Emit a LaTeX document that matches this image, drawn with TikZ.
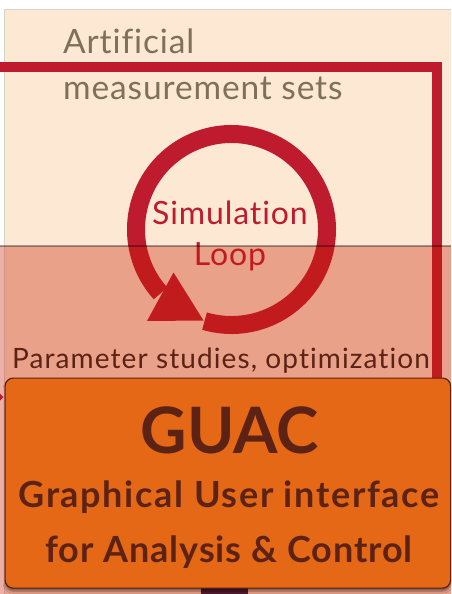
\documentclass[tikz,border=0pt]{standalone}
\usepackage{fontspec}
\setmainfont{Lato}[Ligatures=NoCommon]
\usetikzlibrary{shadows.blur}

\definecolor{peach}{RGB}{253,232,211}
\definecolor{tint}{RGB}{199,29,0}
\definecolor{loopred}{RGB}{190,27,46}
\definecolor{noteclr}{RGB}{127,112,92}
\definecolor{darkbrown}{RGB}{92,34,20}
\definecolor{guacorange}{RGB}{228,104,22}
\definecolor{edgebrown}{RGB}{90,32,16}
\definecolor{plum}{RGB}{79,26,46}
\definecolor{frame}{RGB}{214,210,206}

\newcommand{\spaced}[1]{\addfontfeatures{LetterSpace=#1}}

\tikzset{
  note/.style={text=noteclr, inner sep=0pt, font=\fontsize{33.5}{40}\selectfont\spaced{2.6}},
  looptext/.style={text=loopred, inner sep=0pt, font=\fontsize{32}{38}\selectfont\spaced{2.8}},
  paramtext/.style={text=darkbrown, inner sep=0pt, font=\fontsize{28}{34}\selectfont\spaced{3.9}},
  flowline/.style={draw=loopred, line width=9.4pt, miter limit=10},
  ring/.style={draw=loopred, line width=18pt},
  guacbox/.style={fill=guacorange, draw=edgebrown, line width=1.2pt,
    rounded corners=8pt, inner sep=0pt,
    blur shadow={shadow xshift=0pt, shadow yshift=-3pt, shadow opacity=45, shadow blur steps=6}},
  guactitle/.style={text=darkbrown, inner sep=0pt, font=\bfseries\fontsize{64}{70}\selectfont},
  guacwide/.style={text=darkbrown, inner sep=0pt, font=\bfseries\fontsize{36}{42}\selectfont\spaced{4.6}},
  guacnarrow/.style={text=darkbrown, inner sep=0pt, font=\bfseries\fontsize{36}{42}\selectfont\spaced{2.5}},
}

\begin{document}
\begin{tikzpicture}[x=1pt, y=-1pt]
  \useasboundingbox (0,0) rectangle (451,594);
  \fill[white] (0,0) rectangle (451,594);

  % upper panel
  \fill[peach] (4.5,9.5) rectangle (451,594);
  \draw[frame, line width=1.5pt] (4.5,594) -- (4.5,9.5) -- (451,9.5);

  % feedback line running round the panel
  \coordinate (lineStart) at (0,67);
  \coordinate (lineCorner) at (437,67);
  \coordinate (lineEnd) at (437,382);
  \draw[flowline] (lineStart) -- (lineCorner) -- (lineEnd);

  % simulation loop ring with its arrowhead
  \coordinate (loopc) at (231.5,229.5);
  \draw[ring] ($(loopc)+(106.4:95.5)$) arc[start angle=106.4, end angle=-222, radius=95.5];
  \fill[loopred] (147,321) -- (173.5,272.5) -- (203.5,320.5) -- cycle;

  \node[looptext, anchor=base] (simtxt) at (230,224.5) {Simulation};
  \node[looptext, anchor=base] (looptxt) at (230,265) {Loop};

  \node[note, anchor=base west] (art) at (63,53) {Artificial};
  \node[note, anchor=base west] (meas) at (63,99) {measurement sets};

  % lower panel: translucent tint over everything below the divider
  \fill[tint, opacity=0.35] (0,245.5) rectangle (451,594);
  \draw[black, opacity=0.35, line width=2pt] (0,246) -- (451,246);

  \node[paramtext, anchor=base west] (param) at (12,368) {Parameter studies, optimization};

  % small incoming arrow at the left of the box
  \fill[loopred] (0,393.5) -- (3.5,397) -- (0,400.5) -- cycle;

  % block peeking out below the box
  \fill[plum] (201,585) rectangle (248,594);

  % GUAC box
  \node[guacbox, anchor=north west, minimum width=445.5pt, minimum height=210pt] (guac) at (4.5,377.5) {};
  \node[guactitle, anchor=base] (guacname) at (230,453) {GUAC};
  \node[guacwide, anchor=base] (guacl1) at (229,507) {Graphical User interface};
  \node[guacnarrow, anchor=base] (guacl2) at (229,562) {for Analysis \& Control};
\end{tikzpicture}
\end{document}
